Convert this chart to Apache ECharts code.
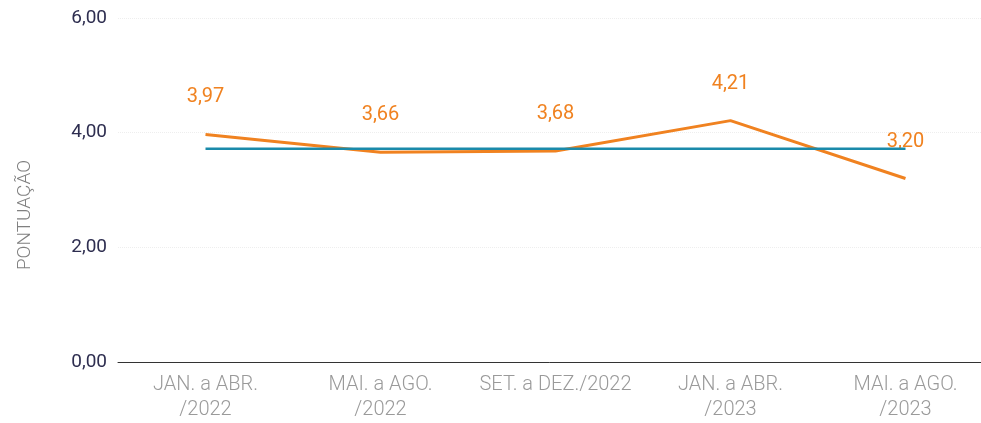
<!DOCTYPE html>
<html>
<head>
<meta charset="utf-8">
<script src="https://cdn.jsdelivr.net/npm/echarts@6/dist/echarts.min.js"></script>
<style>
  html, body { margin: 0; padding: 0; background: #fff; }
  #chart { width: 981px; height: 423px; }
</style>
</head>
<body>
<div id="chart"></div>
<script>
var categorias = ['JAN. a ABR.\n/2022', 'MAI. a AGO.\n/2022', 'SET. a DEZ./2022', 'JAN. a ABR.\n/2023', 'MAI. a AGO.\n/2023']
var pontuacao = [3.97, 3.66, 3.68, 4.21, 3.20]
var media = [3.72, 3.72, 3.72, 3.72, 3.72]
var yTicks = [0, 2, 4, 6]

var chart = echarts.init(document.getElementById('chart'))

var option = {
  animation: false,
  grid: {
    left: 118,
    top: 18,
    width: 875,
    height: 344,
    outerBoundsMode: 'none',
    containLabel: false
  },
  graphic: [{
    type: 'text',
    x: 25,
    y: 215,
    rotation: Math.PI / 2,
    style: {
      text: 'PONTUAÇÃO',
      fill: '#808080',
      font: '300 19px Roboto',
      align: 'center',
      verticalAlign: 'middle'
    }
  }],
  xAxis: {
    type: 'category',
    data: categorias,
    boundaryGap: true,
    axisTick: { show: false },
    axisLine: {
      lineStyle: { color: '#333', width: 1 }
    },
    axisLabel: {
      color: '#9a9a9a',
      fontFamily: 'Roboto',
      fontWeight: 300,
      fontSize: 20,
      lineHeight: 25,
      margin: 10,
      interval: 0
    }
  },
  yAxis: {
    type: 'value',
    min: 0,
    max: 6,
    interval: 2,
    axisLine: { show: false },
    axisTick: { show: false },
    splitLine: {
      lineStyle: { type: 'dotted', color: '#eeeeee' }
    },
    axisLabel: {
      color: '#2e2e50',
      fontFamily: 'Roboto',
      fontSize: 19,
      margin: 11,
      formatter: function (v) {
        return yTicks.indexOf(v) >= 0 ? v.toFixed(2).replace('.', ',') : ''
      }
    }
  },
  series: [
    {
      name: 'Média',
      type: 'line',
      data: media,
      symbol: 'none',
      lineStyle: { color: '#1a8aaa', width: 2.5 },
      z: 3
    },
    {
      name: 'Pontuação',
      type: 'line',
      data: pontuacao,
      symbol: 'circle',
      symbolSize: 0,
      showSymbol: true,
      lineStyle: { color: '#f08220', width: 3 },
      label: {
        show: true,
        position: 'top',
        distance: 27,
        color: '#f08220',
        fontFamily: 'Roboto',
        fontSize: 20,
        formatter: function (p) {
          return p.value.toFixed(2).replace('.', ',')
        }
      },
      z: 2
    }
  ]
}

chart.setOption(option)
</script>
</body>
</html>
